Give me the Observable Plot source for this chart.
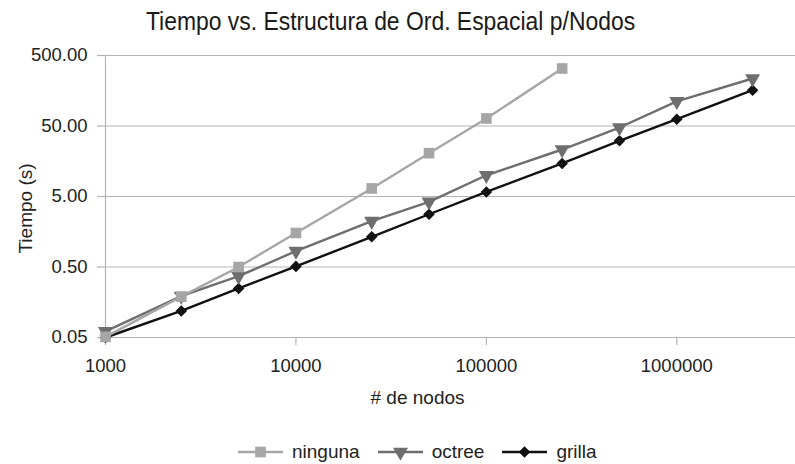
<!DOCTYPE html>
<html>
<head>
<meta charset="utf-8">
<script src="https://cdn.jsdelivr.net/npm/d3@7"></script>
<script src="https://cdn.jsdelivr.net/npm/@observablehq/plot@0.6"></script>
<style>
  body { margin: 0; background: #fff; }
  #wrap { position: relative; width: 795px; height: 464px; background: #fff; font-family: "Liberation Sans", Arial, sans-serif; color: #222; overflow: hidden; }
  #title { position: absolute; top: 9px; left: -7px; width: 795px; text-align: center; font-family: "Liberation Sans", Arial, sans-serif; font-size: 25px; line-height: 25px; color: #1a1a1a; white-space: nowrap; transform: scaleX(0.916); transform-origin: center; }
  #chart { position: absolute; top: 44px; left: 0; }
  #legend { position: absolute; top: 441px; left: 238px; display: flex; align-items: center; font-size: 19px; line-height: 22px; white-space: nowrap; color: #222; }
  .item { display: flex; align-items: center; margin-right: 18px; }
  .item span { margin-left: 9px; }
</style>
</head>
<body>
<div id="wrap">
  <div id="title"></div>
  <div id="chart"></div>
  <div id="legend"></div>
</div>
<script>
// ---- data ----
const nodos = [1000, 2500, 5000, 10000, 25000, 50000, 100000, 250000, 500000, 1000000, 2500000];
const ninguna = [0.051, 0.19, 0.5, 1.52, 6.5, 20.6, 64, 327];
const octree = [0.061, 0.193, 0.37, 0.84, 2.23, 4.19, 10.0, 23.2, 47.6, 112, 236];
const grilla = [0.05, 0.119, 0.248, 0.51, 1.34, 2.8, 5.8, 14.7, 30.8, 62.4, 161];
const seriesNames = ["ninguna", "octree", "grilla"];
const seriesValues = [ninguna, octree, grilla];
const xTicks = [1000, 10000, 100000, 1000000];
const yTicks = [0.05, 0.5, 5, 50, 500];
const title = "Tiempo vs. Estructura de Ord. Espacial p/Nodos";
const xLabel = "# de nodos";
const yLabel = "Tiempo (s)";

document.getElementById("title").textContent = title;

// ---- styles ----
const colors = {ninguna: "#a6a6a6", octree: "#6e6e6e", grilla: "#111111"};
const symbols = {ninguna: "square", octree: "triangle", grilla: "diamond2"};
const rotations = {ninguna: 0, octree: 180, grilla: 0};
const radii = {ninguna: 6, octree: 5.6, grilla: 5.2};
const d3Symbols = {square: d3.symbolSquare, triangle: d3.symbolTriangle, diamond2: d3.symbolDiamond2};

const rows = seriesNames.flatMap((s, i) => seriesValues[i].map((v, j) => ({serie: s, nodos: nodos[j], t: v})));
const drawOrder = ["grilla", "octree", "ninguna"];

const gridColor = "#b5b5b5";
const textColor = "#222";
const fmtY = d3.format(".2f");
const fmtX = d3.format("d");

const marks = [
  Plot.gridY(yTicks, {stroke: gridColor, strokeOpacity: 1, strokeWidth: 1.2}),
  Plot.ruleX([1000], {stroke: gridColor, strokeWidth: 1.2}),
  Plot.axisY(yTicks, {tickSize: 8, stroke: gridColor, strokeWidth: 1.2, text: null, label: null}),
  Plot.text(yTicks, {y: d => d, text: fmtY, frameAnchor: "left", textAnchor: "end", lineAnchor: "middle", dx: -18, fontSize: 18.5, fill: textColor}),
  Plot.axisX(xTicks, {tickSize: 8, tickPadding: 13, stroke: gridColor, strokeWidth: 1.2, tickFormat: fmtX, label: null, fontSize: 18.5, fill: textColor}),
  Plot.text([xLabel], {text: d => d, frameAnchor: "bottom", lineAnchor: "middle", textAnchor: "middle", dx: -33, dy: 60, fontSize: 19, fill: textColor}),
  Plot.text([yLabel], {text: d => d, frameAnchor: "left", lineAnchor: "middle", textAnchor: "middle", rotate: -90, dx: -80, dy: 12, fontSize: 19, fill: textColor})
];
for (const s of drawOrder) {
  const data = rows.filter(d => d.serie === s);
  marks.push(Plot.line(data, {x: "nodos", y: "t", stroke: colors[s], strokeWidth: 2.4}));
  marks.push(Plot.dot(data, {x: "nodos", y: "t", symbol: () => symbols[s], fill: colors[s], stroke: "none", r: radii[s], rotate: rotations[s]}));
}

const chart = Plot.plot({
  width: 795,
  height: 392,
  marginTop: 11,
  marginBottom: 99,
  marginLeft: 105,
  marginRight: 0,
  style: {fontFamily: "Liberation Sans, Arial, sans-serif", fontSize: "18.5px", background: "white", color: textColor},
  x: {type: "log", domain: [1000, 4.2e6], axis: null},
  y: {type: "log", domain: [0.05, 500], axis: null},
  symbol: {type: "identity"},
  marks
});
document.getElementById("chart").appendChild(chart);

// ---- legend ----
const legend = document.getElementById("legend");
for (const s of seriesNames) {
  const item = document.createElement("div");
  item.className = "item";
  const svg = d3.create("svg").attr("width", 45).attr("height", 20);
  svg.append("line").attr("x1", 0).attr("x2", 45).attr("y1", 10).attr("y2", 10).attr("stroke", colors[s]).attr("stroke-width", 2.4);
  svg.append("path")
    .attr("d", d3.symbol(d3Symbols[symbols[s]], radii[s] * radii[s] * Math.PI)())
    .attr("transform", `translate(22.5,10) rotate(${rotations[s]})`)
    .attr("fill", colors[s]);
  item.appendChild(svg.node());
  const span = document.createElement("span");
  span.textContent = s;
  item.appendChild(span);
  legend.appendChild(item);
}
</script>
</body>
</html>
